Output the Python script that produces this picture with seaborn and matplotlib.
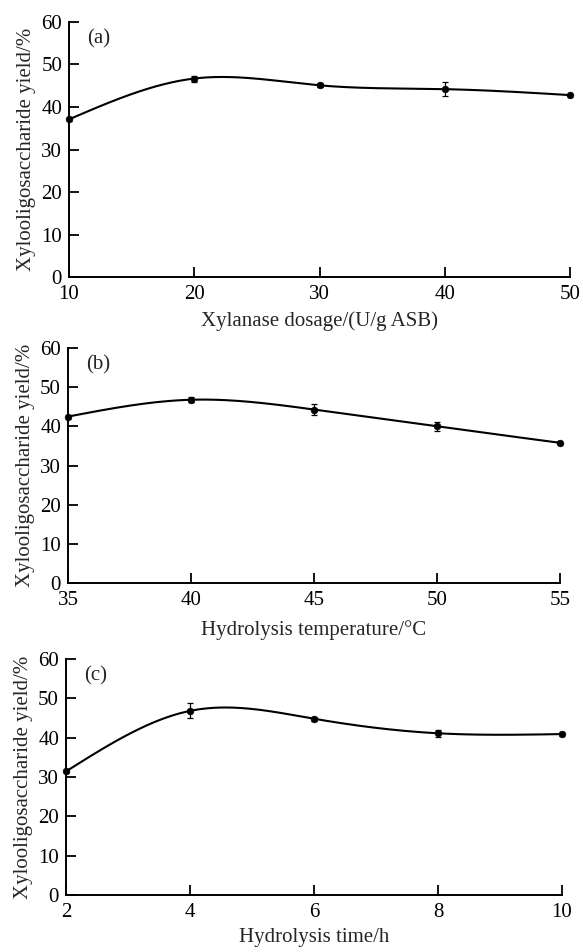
import matplotlib
matplotlib.use("Agg")
import matplotlib.pyplot as plt
import numpy as np
import pandas as pd
import seaborn as sns

# panel (a): xylanase dosage
dosage = [10, 20, 30, 40, 50]
yield_a = [37.1, 46.7, 45.1, 44.2, 42.8]
err_a = [0.5, 0.7, 0.5, 1.6, 0.3]

# panel (b): hydrolysis temperature
temperature = [35, 40, 45, 50, 55]
yield_b = [42.5, 46.8, 44.3, 40.0, 35.8]
err_b = [0.4, 0.6, 1.3, 1.1, 0.4]

# panel (c): hydrolysis time
hours = [2, 4, 6, 8, 10]
yield_c = [31.4, 46.8, 44.8, 41.1, 40.9]
err_c = [0.4, 1.9, 0.5, 0.9, 0.5]

ylabel = "Xylooligosaccharide yield/%"

sns.set_theme(style="ticks")
plt.rcParams["font.family"] = ["Liberation Serif", "DejaVu Serif"]

FS = 15


def natural_spline(x, y, n=300):
    """Natural cubic spline through the points, used for the smooth connector."""
    x = np.asarray(x, float)
    y = np.asarray(y, float)
    k = len(x)
    h = np.diff(x)
    A = np.zeros((k, k))
    b = np.zeros(k)
    A[0, 0] = A[-1, -1] = 1.0
    for i in range(1, k - 1):
        A[i, i - 1] = h[i - 1]
        A[i, i] = 2 * (h[i - 1] + h[i])
        A[i, i + 1] = h[i]
        b[i] = 6 * ((y[i + 1] - y[i]) / h[i] - (y[i] - y[i - 1]) / h[i - 1])
    m = np.linalg.solve(A, b)
    xs = np.linspace(x[0], x[-1], n)
    idx = np.clip(np.searchsorted(x, xs) - 1, 0, k - 2)
    x0, x1 = x[idx], x[idx + 1]
    hh = x1 - x0
    t0, t1 = x1 - xs, xs - x0
    ys = (m[idx] * t0**3 / (6 * hh) + m[idx + 1] * t1**3 / (6 * hh)
          + (y[idx] / hh - m[idx] * hh / 6) * t0
          + (y[idx + 1] / hh - m[idx + 1] * hh / 6) * t1)
    return pd.DataFrame({"x": xs, "y": ys})


fig = plt.figure(figsize=(5.83, 9.52), dpi=100)

panels = [
    ([0.1184, 0.7090, 0.8593, 0.2679], dosage, yield_a, err_a,
     "Xylanase dosage/(U/g ASB)", (10, 50), np.arange(10, 51, 10), "(a)", 5),
    ([0.1166, 0.3876, 0.8439, 0.2468], temperature, yield_b, err_b,
     "Hydrolysis temperature/°C", (35, 55), np.arange(35, 56, 5), "(b)", 7),
    ([0.1132, 0.0600, 0.8508, 0.2478], hours, yield_c, err_c,
     "Hydrolysis time/h", (2, 10), np.arange(2, 11, 2), "(c)", 4),
]

for rect, xv, yv, ev, xlabel, xlim, xticks, tag, xpad in panels:
    ax = fig.add_axes(rect)
    curve = natural_spline(xv, yv)
    sns.lineplot(data=curve, x="x", y="y", ax=ax, color="black",
                 linewidth=1.5, sort=False)
    ax.errorbar(xv, yv, yerr=ev, fmt="none", ecolor="black",
                elinewidth=0.9, capsize=2.5, capthick=0.9, zorder=3)
    sns.scatterplot(x=xv, y=yv, ax=ax, color="black", s=24,
                    edgecolor="black", zorder=4, clip_on=False)

    ax.set_xlim(*xlim)
    ax.set_ylim(0, 60)
    ax.set_xticks(xticks)
    ax.set_yticks(np.arange(0, 61, 10))
    ax.set_xlabel(xlabel, fontsize=FS, labelpad=xpad)
    ax.set_ylabel(ylabel, fontsize=FS, labelpad=4)
    ax.tick_params(direction="in", length=7, width=1.3, labelsize=FS,
                   colors="black")
    ax.tick_params(axis="x", pad=6)
    ax.tick_params(axis="y", pad=5)
    for side in ("left", "bottom"):
        ax.spines[side].set_linewidth(1.4)
        ax.spines[side].set_color("black")
    sns.despine(ax=ax)
    ax.text(0.037, 0.97, tag, transform=ax.transAxes, fontsize=FS,
            va="top", ha="left")

fig.savefig("out.png", dpi=100)
plt.close(fig)
